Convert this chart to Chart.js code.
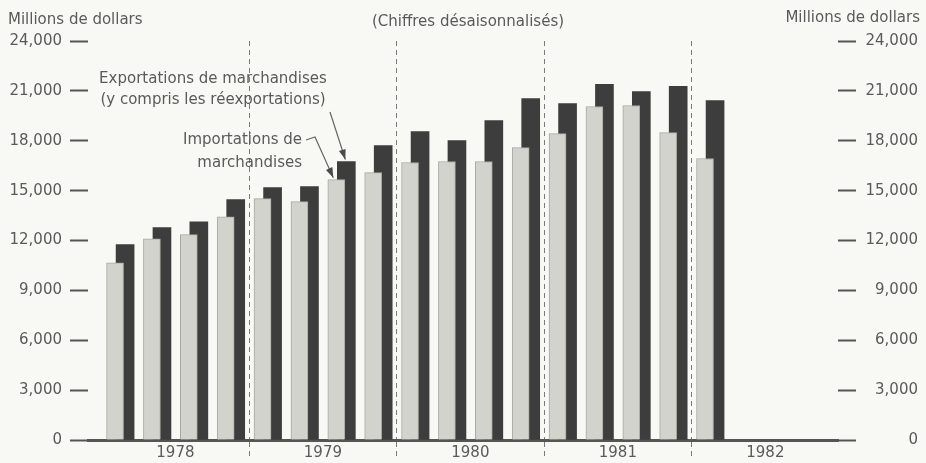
<!DOCTYPE html>
<html lang="fr">
<head>
<meta charset="UTF-8">
<title>Commerce de marchandises</title>
<script src="https://cdn.jsdelivr.net/npm/chart.js@4.4.0/dist/chart.umd.min.js"></script>
<style>
  html, body { margin: 0; padding: 0; background: #f8f8f4; }
</style>
</head>
<body>
<canvas id="myChart" width="926" height="463"></canvas>

<script>
'use strict';

// trimestres de 1978 T1 à 1982 T1
const quarters = ['1978 T1', '1978 T2', '1978 T3', '1978 T4',
                  '1979 T1', '1979 T2', '1979 T3', '1979 T4',
                  '1980 T1', '1980 T2', '1980 T3', '1980 T4',
                  '1981 T1', '1981 T2', '1981 T3', '1981 T4',
                  '1982 T1'];
const years = ['1978', '1979', '1980', '1981', '1982'];

// millions de dollars
const imports = [10660, 12100, 12350, 13430, 14520, 14340, 15660, 16080,
                 16690, 16750, 16750, 17590, 18430, 20060, 20120, 18490, 16930];
const exports = [11750, 12770, 13130, 14460, 15180, 15240, 16750, 17710,
                 18550, 18010, 19220, 20540, 20240, 21390, 20960, 21270, 20420];

const yTicks = [0, 3000, 6000, 9000, 12000, 15000, 18000, 21000, 24000];

const unitLabel = 'Millions de dollars';
const title = '(Chiffres désaisonnalisés)';
const exportNote = ['Exportations de marchandises', '(y compris les réexportations)'];
const importNote = ['Importations de', 'marchandises'];
const noteQuarter = 6; // 1979 T3, où pointent les flèches

const textColor = '#5a5a5a';
const lineColor = '#555555';
const font = { family: 'DejaVu Sans', size: 15 };

const span = [-0.87, 19.47];   // étendue de l'axe x en trimestres
const pairShift = 0.136;        // décalage importations / exportations

function arrow(ctx, pts) {
    ctx.beginPath();
    ctx.moveTo(pts[0][0], pts[0][1]);
    for (let i = 1; i < pts.length; i++) ctx.lineTo(pts[i][0], pts[i][1]);
    ctx.stroke();
    const [ax, ay] = pts[pts.length - 2];
    const [bx, by] = pts[pts.length - 1];
    const a = Math.atan2(by - ay, bx - ax);
    ctx.beginPath();
    ctx.moveTo(bx, by);
    ctx.lineTo(bx - 10 * Math.cos(a) + 3.5 * Math.sin(a), by - 10 * Math.sin(a) - 3.5 * Math.cos(a));
    ctx.lineTo(bx - 10 * Math.cos(a) - 3.5 * Math.sin(a), by - 10 * Math.sin(a) + 3.5 * Math.cos(a));
    ctx.closePath();
    ctx.fill();
}

const notesPlugin = {
    id: 'notes',
    afterDraw(chart) {
        const { ctx, scales } = chart;
        ctx.save();
        ctx.fillStyle = textColor;
        ctx.font = '15px "DejaVu Sans"';
        ctx.textBaseline = 'middle';

        ctx.textAlign = 'left';
        ctx.fillText(unitLabel, 8, 20);
        ctx.textAlign = 'right';
        ctx.fillText(unitLabel, 920, 18);
        ctx.textAlign = 'center';
        ctx.fillText(title, 468, 22);

        ctx.fillText(exportNote[0], 213, 79);
        ctx.fillText(exportNote[1], 213, 100);
        ctx.textAlign = 'right';
        ctx.fillText(importNote[0], 302, 140);
        ctx.fillText(importNote[1], 302, 163);

        ctx.strokeStyle = '#666';
        ctx.fillStyle = '#4a4a4a';
        ctx.lineWidth = 1.2;
        const k = noteQuarter;
        const ex = scales.xe.getPixelForValue(k) - 1;
        const ey = scales.y.getPixelForValue(exports[k]) - 2;
        arrow(ctx, [[330, 112], [ex, ey]]);
        const ix = scales.xi.getPixelForValue(k) - 3;
        const iy = scales.y.getPixelForValue(imports[k]) - 2;
        arrow(ctx, [[306, 140], [315, 137], [ix, iy]]);
        ctx.restore();
    }
};

const isYearTick = v => Number.isInteger((v - 1.5) / 4);

const yAxis = (position) => ({
    position: position,
    min: 0,
    max: 24000,
    afterBuildTicks: s => { s.ticks = yTicks.map(v => ({ value: v })); },
    afterFit: s => { s.width = 80; },
    ticks: {
        autoSkip: false,
        color: textColor,
        font: font,
        padding: position === 'left' ? 8 : 9,
        crossAlign: position === 'left' ? 'near' : 'far',
        callback: v => v.toLocaleString('en-US')
    },
    grid: { drawOnChartArea: false, drawTicks: true, tickLength: 18, tickWidth: 2, tickColor: lineColor },
    border: { display: false }
});

const ctx = document.getElementById('myChart').getContext('2d');
const myChart = new Chart(ctx, {
    type: 'bar',
    data: {
        labels: quarters,
        datasets: [{
            label: importNote.join(' '),
            data: imports.map((v, i) => ({ x: i, y: v })),
            xAxisID: 'xi',
            yAxisID: 'y',
            backgroundColor: '#d3d3ce',
            borderColor: '#a8a8a3',
            borderWidth: 1,
            barThickness: 17,
            grouped: false
        }, {
            label: exportNote.join(' '),
            data: exports.map((v, i) => ({ x: i, y: v })),
            xAxisID: 'xe',
            yAxisID: 'y',
            backgroundColor: '#3d3d3d',
            borderWidth: 0,
            barThickness: 18,
            grouped: false
        }]
    },
    options: {
        responsive: false,
        animation: false,
        layout: { padding: { left: 8, right: 8, top: 41, bottom: 0 } },
        plugins: { legend: { display: false }, tooltip: { enabled: false } },
        scales: {
            x: {
                type: 'linear',
                position: 'bottom',
                offset: false,
                min: span[0],
                max: span[1],
                afterBuildTicks: s => {
                    const t = [];
                    years.forEach((yr, k) => {
                        t.push({ value: 4 * k + 1.5 });
                        if (k < years.length - 1) t.push({ value: 4 * k + 3.5 });
                    });
                    s.ticks = t;
                },
                afterFit: s => { s.height = 23; },
                ticks: {
                    autoSkip: false,
                    maxRotation: 0,
                    color: textColor,
                    font: font,
                    padding: -14,
                    callback: v => isYearTick(v) ? years[(v - 1.5) / 4] : ''
                },
                grid: {
                    offset: false,
                    color: c => (c.tick && !isYearTick(c.tick.value)) ? '#7a7a7a' : 'rgba(0,0,0,0)',
                    tickColor: c => (c.tick && !isYearTick(c.tick.value)) ? '#7a7a7a' : 'rgba(0,0,0,0)',
                    lineWidth: 1,
                    tickLength: 18,
                    tickBorderDash: [5, 4]
                },
                border: { display: true, color: lineColor, width: 3, dash: [5, 4] }
            },
            xi: { type: 'linear', display: false, offset: false, min: span[0] + pairShift, max: span[1] + pairShift },
            xe: { type: 'linear', display: false, offset: false, min: span[0] - pairShift, max: span[1] - pairShift },
            y: yAxis('left'),
            y2: yAxis('right')
        }
    },
    plugins: [notesPlugin]
});
</script>
</body>
</html>
